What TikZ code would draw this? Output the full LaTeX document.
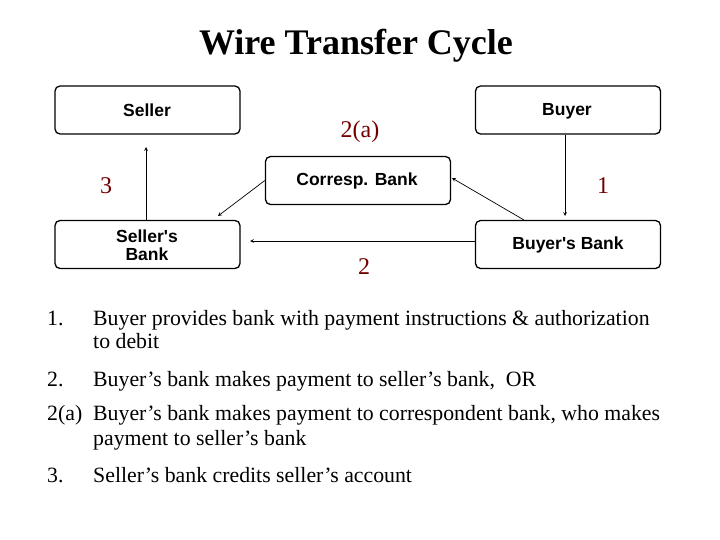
\documentclass[tikz,border=0pt]{standalone}
\usepackage{fontspec}
\setmainfont{Liberation Serif}
\newfontfamily\boxfont{Liberation Sans}
\begin{document}
\begin{tikzpicture}[x=1pt,y=-1pt,
  box/.style={draw,line width=1.3pt,rounded corners=5pt,minimum width=185pt,minimum height=48pt,inner sep=0pt},
  lbl/.style={font=\boxfont\bfseries\fontsize{17.5}{18}\selectfont,align=center},
  num/.style={text=red!45!black,font=\fontsize{24}{25}\selectfont},
  arr/.style={->,>=stealth,line width=0.7pt},
  body/.style={anchor=base west,font=\fontsize{21.8}{24}\selectfont,inner sep=0pt}]
\useasboundingbox (0,0) rectangle (720,540);
\node[font=\bfseries\fontsize{36}{38}\selectfont] (title) at (356,46) {Wire Transfer Cycle};
\node[box] (seller) at (147.5,110) {};
\node[box] (buyer) at (568,110) {};
\node[box] (corr) at (358,180.5) {};
\node[box] (sbank) at (147.5,244.5) {};
\node[box] (bbank) at (568,244.5) {};
\node[lbl] (tseller) at (147,110) {Seller};
\node[lbl] (tbuyer) at (567,111) {Buyer};
\node[lbl] (tcorr) at (357,181) {Corresp. Bank};
\node[lbl] (tsbank) at (147,245) {Seller's\\Bank};
\node[lbl] (tbbank) at (568,245) {Buyer's Bank};
\coordinate (sa) at (146,147);
\draw[arr] (sbank.north -| sa) -- (sa);
\coordinate (ba) at (565,216);
\draw[arr] (buyer.south -| ba) -- (ba);
\coordinate (b1) at (524,220);
\coordinate (c1) at (452,178);
\draw[arr] (b1) -- (c1);
\coordinate (c2) at (218,216);
\draw[arr] (corr.west) -- (c2);
\coordinate (s2) at (250,241);
\draw[arr] (bbank.west |- s2) -- (s2);
\node[num] (n2a) at (360,132) {2(a)};
\node[num] (n3) at (106,186) {3};
\node[num] (n1) at (603,186) {1};
\node[num] (n2) at (364,267) {2};
\node[body] (l1) at (47,325) {1.};
\node[body] (t1) at (93,325) {Buyer provides bank with payment instructions \& authorization};
\node[body] (t1b) at (93,348) {to debit};
\node[body] (l2) at (47,386) {2.};
\node[body] (t2) at (93,386) {Buyer's bank makes payment to seller's bank,\ \ OR};
\node[body] (l2a) at (47,420) {2(a)};
\node[body] (t2a) at (93,420) {Buyer's bank makes payment to correspondent bank, who makes};
\node[body] (t2ab) at (93,445) {payment to seller's bank};
\node[body] (l3) at (47,482) {3.};
\node[body] (t3) at (93,482) {Seller's bank credits seller's account};
\end{tikzpicture}
\end{document}
